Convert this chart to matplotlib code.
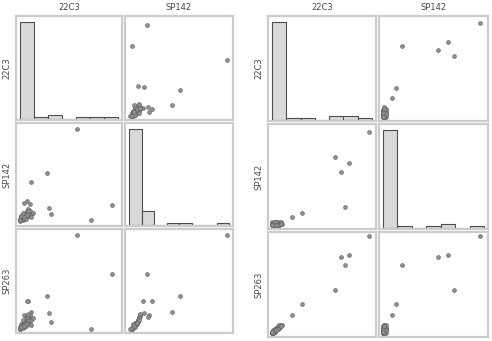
import numpy as np
import matplotlib
matplotlib.use("Agg")
import matplotlib.pyplot as plt

ROW_VARS = ["22C3", "SP142", "SP263"]
COL_VARS = ["22C3", "SP142"]

LEFT_22C3 = [41, 66, 19, 8, 6, 21, 22, 51, 5, 3, 7,
             0, 0, 1, 1, 1, 2, 2, 2, 3, 3, 3, 4, 4, 4, 5, 5, 5, 6, 6, 7,
             7, 8, 8, 9, 1, 2, 3, 0, 4, 6, 1, 2, 3, 5, 0, 2, 4, 1, 3, 6]
LEFT_SP142 = [78, 14, 41, 34, 11, 12, 7, 2, 18, 16, 15,
              2, 3, 2, 4, 5, 3, 6, 4, 5, 7, 3, 6, 8, 4, 7, 5, 9, 6, 8, 5,
              9, 7, 4, 8, 3, 2, 6, 1, 5, 7, 4, 5, 3, 6, 2, 8, 3, 5, 4, 9]
LEFT_SP263 = [88, 52, 31, 16, 26, 15, 7, 0, 26, 13, 11,
              0, 2, 1, 3, 5, 2, 6, 3, 4, 8, 2, 7, 10, 4, 9, 6, 12, 7, 11, 5,
              13, 9, 4, 10, 1, 1, 5, 0, 3, 8, 2, 4, 3, 6, 1, 9, 5, 2, 3, 14]

RIGHT_22C3 = [68, 44, 54, 48, 51, 21, 14,
              0, 0, 1, 1, 1, 2, 2, 2, 3, 3, 3, 4, 4, 4, 5, 5, 5, 6, 6, 7,
              0, 1, 2, 3, 4, 1, 2, 0, 3, 5, 0, 1, 2, 0, 1, 3, 2, 4, 1, 0,
              2, 3, 1, 0, 6]
RIGHT_SP142 = [67, 49, 45, 38, 13, 9, 6,
               0, 1, 0, 1, 0, 1, 2, 0, 1, 0, 2, 1, 0, 1, 2, 0, 1, 1, 2, 1,
               0, 0, 1, 0, 1, 1, 0, 0, 1, 0, 2, 1, 0, 1, 0, 2, 1, 0, 0, 1,
               2, 0, 1, 0, 1]
RIGHT_SP263 = [70, 31, 56, 55, 49, 21, 13,
               0, 1, 1, 0, 2, 1, 2, 3, 2, 3, 4, 3, 4, 5, 4, 5, 6, 5, 6, 6,
               0, 0, 1, 2, 3, 1, 2, 1, 3, 4, 0, 1, 2, 1, 0, 2, 3, 3, 1, 0,
               2, 2, 0, 1, 5]

W, H = 492, 341
fig = plt.figure(figsize=(W / 100, H / 100), dpi=100)
fig.patch.set_facecolor("white")

SPINE = "#cccccc"
TXT = "#4a4a4a"


def frac_box(x0, x1, y0, y1):
    return [x0 / W, 1 - y1 / H, (x1 - x0) / W, (y1 - y0) / H]


def lim_for(vals):
    hi = np.ceil(max(vals) / 10.0) * 10
    return hi, (-0.04 * hi, 1.04 * hi)


def draw_matrix(data, col_edges, row_edges):
    his = {k: lim_for(v) for k, v in data.items()}
    for r, rv in enumerate(ROW_VARS):
        for c, cv in enumerate(COL_VARS):
            x0, x1 = col_edges[c]
            y0, y1 = row_edges[r]
            ax = fig.add_axes(frac_box(x0, x1, y0, y1))
            ax.set_xticks([])
            ax.set_yticks([])
            for s in ax.spines.values():
                s.set_color(SPINE)
                s.set_linewidth(1.6)
            hi, xl = his[cv]
            if rv == cv:
                bins = np.arange(0, hi + 10, 10)
                counts, _, _ = ax.hist(data[cv], bins=bins, color="#d9d9d9",
                                       edgecolor="#4d4d4d", linewidth=0.8)
                m = counts.max()
                ax.set_ylim(-0.01 * m, 1.06 * m)
                ax.set_xlim(*xl)
            else:
                ax.scatter(data[cv], data[rv], s=8, facecolor="#909090",
                           edgecolor="#606060", linewidth=0.4, zorder=3)
                ax.set_xlim(*xl)
                ax.set_ylim(*his[rv][1])
            if r == 0:
                ax.text(0.5, 1.0 + 9.0 / (y1 - y0), cv, transform=ax.transAxes,
                        ha="center", va="center", fontsize=6, color=TXT)
            if c == 0:
                ax.text(-9.0 / (x1 - x0), 0.5, rv, transform=ax.transAxes,
                        ha="center", va="center", rotation=90, fontsize=6,
                        color=TXT)


left = {"22C3": LEFT_22C3, "SP142": LEFT_SP142, "SP263": LEFT_SP263}
right = {"22C3": RIGHT_22C3, "SP142": RIGHT_SP142, "SP263": RIGHT_SP263}

draw_matrix(left, [(16, 122), (125, 233)], [(16, 120), (123, 226), (229, 333)])
draw_matrix(right, [(268, 376), (379, 488)], [(16, 121), (124, 229), (232, 337)])

fig.savefig("out.png", dpi=100, facecolor="white")
